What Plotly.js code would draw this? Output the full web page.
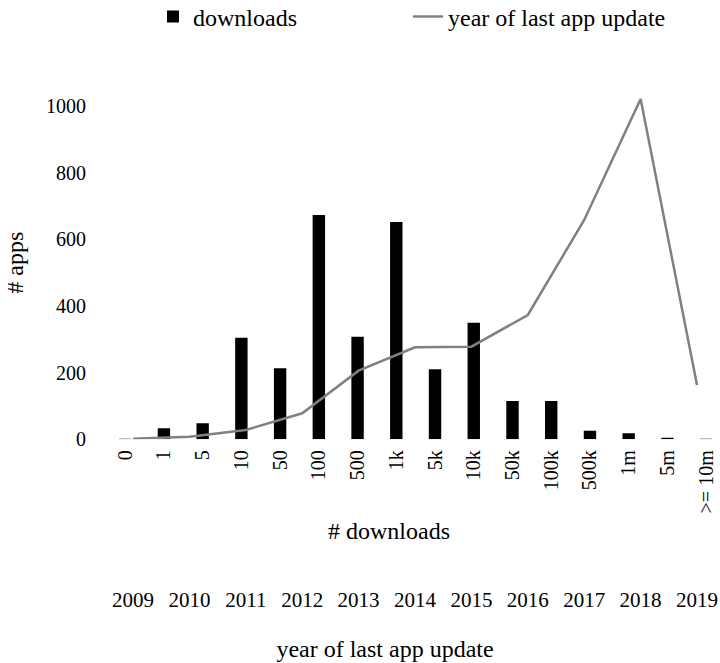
<!DOCTYPE html>
<html>
<head>
<meta charset="utf-8">
<script src="https://cdn.plot.ly/plotly-3.0.1.min.js"></script>
<style>html,body{margin:0;padding:0;background:#fff;}#chart{width:720px;height:663px;}</style>
</head>
<body>
<div id="chart"></div>
<script>
// Data
const downloadCategories = ["0","1","5","10","50","100","500","1k","5k","10k","50k","100k","500k","1m","5m",">= 10m"];
const downloadCounts = [2, 33, 48, 305, 213, 673, 308, 652, 210, 350, 115, 115, 26, 18, 5, 2];
const updateYears = [2009, 2010, 2011, 2012, 2013, 2014, 2015, 2016, 2017, 2018, 2019];
const updateCounts = [2, 8, 28, 78, 206, 276, 278, 373, 658, 1021, 163];
const yTicks = [0, 200, 400, 600, 800, 1000];

const FONT = "Liberation Serif, Times New Roman, serif";

const traces = [
  {
    type: 'bar',
    name: 'downloads',
    x: downloadCategories,
    y: downloadCounts,
    xaxis: 'x', yaxis: 'y',
    width: 0.32,
    marker: {color: '#000000', line: {width: 0}},
    hoverinfo: 'x+y'
  },
  {
    type: 'scatter',
    mode: 'lines',
    name: 'year of last app update',
    x: updateYears,
    y: updateCounts,
    xaxis: 'x2', yaxis: 'y',
    line: {color: '#808080', width: 2.5},
    legendwidth: 240,
    hoverinfo: 'x+y'
  }
];

const layout = {
  width: 720,
  height: 663,
  margin: {l: 40, r: 0, t: 86, b: 78, pad: 0},
  paper_bgcolor: '#ffffff',
  plot_bgcolor: 'rgba(0,0,0,0)',
  font: {family: FONT, color: '#000000', size: 20},
  showlegend: true,
  legend: {
    orientation: 'h',
    xref: 'container', yref: 'container',
    x: 153/720, y: 1 - 17/663,
    xanchor: 'left', yanchor: 'middle',
    font: {family: FONT, size: 24, color: '#000000'},
    entrywidth: 210,
    bgcolor: 'rgba(0,0,0,0)',
    traceorder: 'normal'
  },
  xaxis: {
    type: 'category',
    categoryorder: 'array',
    categoryarray: downloadCategories,
    domain: [20/680, 678/680],
    range: [-1.683, 15.306],
    anchor: 'y',
    tickangle: -90,
    ticks: '',
    ticklabelstandoff: 6,
    showline: false,
    showgrid: false,
    zeroline: false,
    tickfont: {family: FONT, size: 20, color: '#000000'},
    title: {text: '# downloads', font: {family: FONT, size: 24, color: '#000000'}, standoff: 9}
  },
  xaxis2: {
    type: 'linear',
    domain: [12/680, 678/680],
    range: [2007.564, 2019.372],
    anchor: 'free',
    position: 0,
    side: 'bottom',
    tickmode: 'array',
    tickvals: updateYears,
    ticktext: updateYears.map(String),
    ticks: '',
    showline: false,
    showgrid: false,
    zeroline: false,
    tickfont: {family: FONT, size: 21, color: '#000000'},
    title: {text: 'year of last app update', font: {family: FONT, size: 24, color: '#000000'}, standoff: 29}
  },
  yaxis: {
    domain: [0.292, 1],
    range: [0, 1060],
    anchor: 'free',
    position: 46/680,
    tickmode: 'array',
    tickvals: yTicks,
    ticks: '',
    showline: false,
    showgrid: false,
    zeroline: false,
    tickfont: {family: FONT, size: 20, color: '#000000'},
    title: {text: '# apps', font: {family: FONT, size: 24, color: '#000000'}, standoff: 14}
  },
  bargap: 0.68
};

Plotly.newPlot('chart', traces, layout, {displayModeBar: false, staticPlot: true});
</script>
</body>
</html>
